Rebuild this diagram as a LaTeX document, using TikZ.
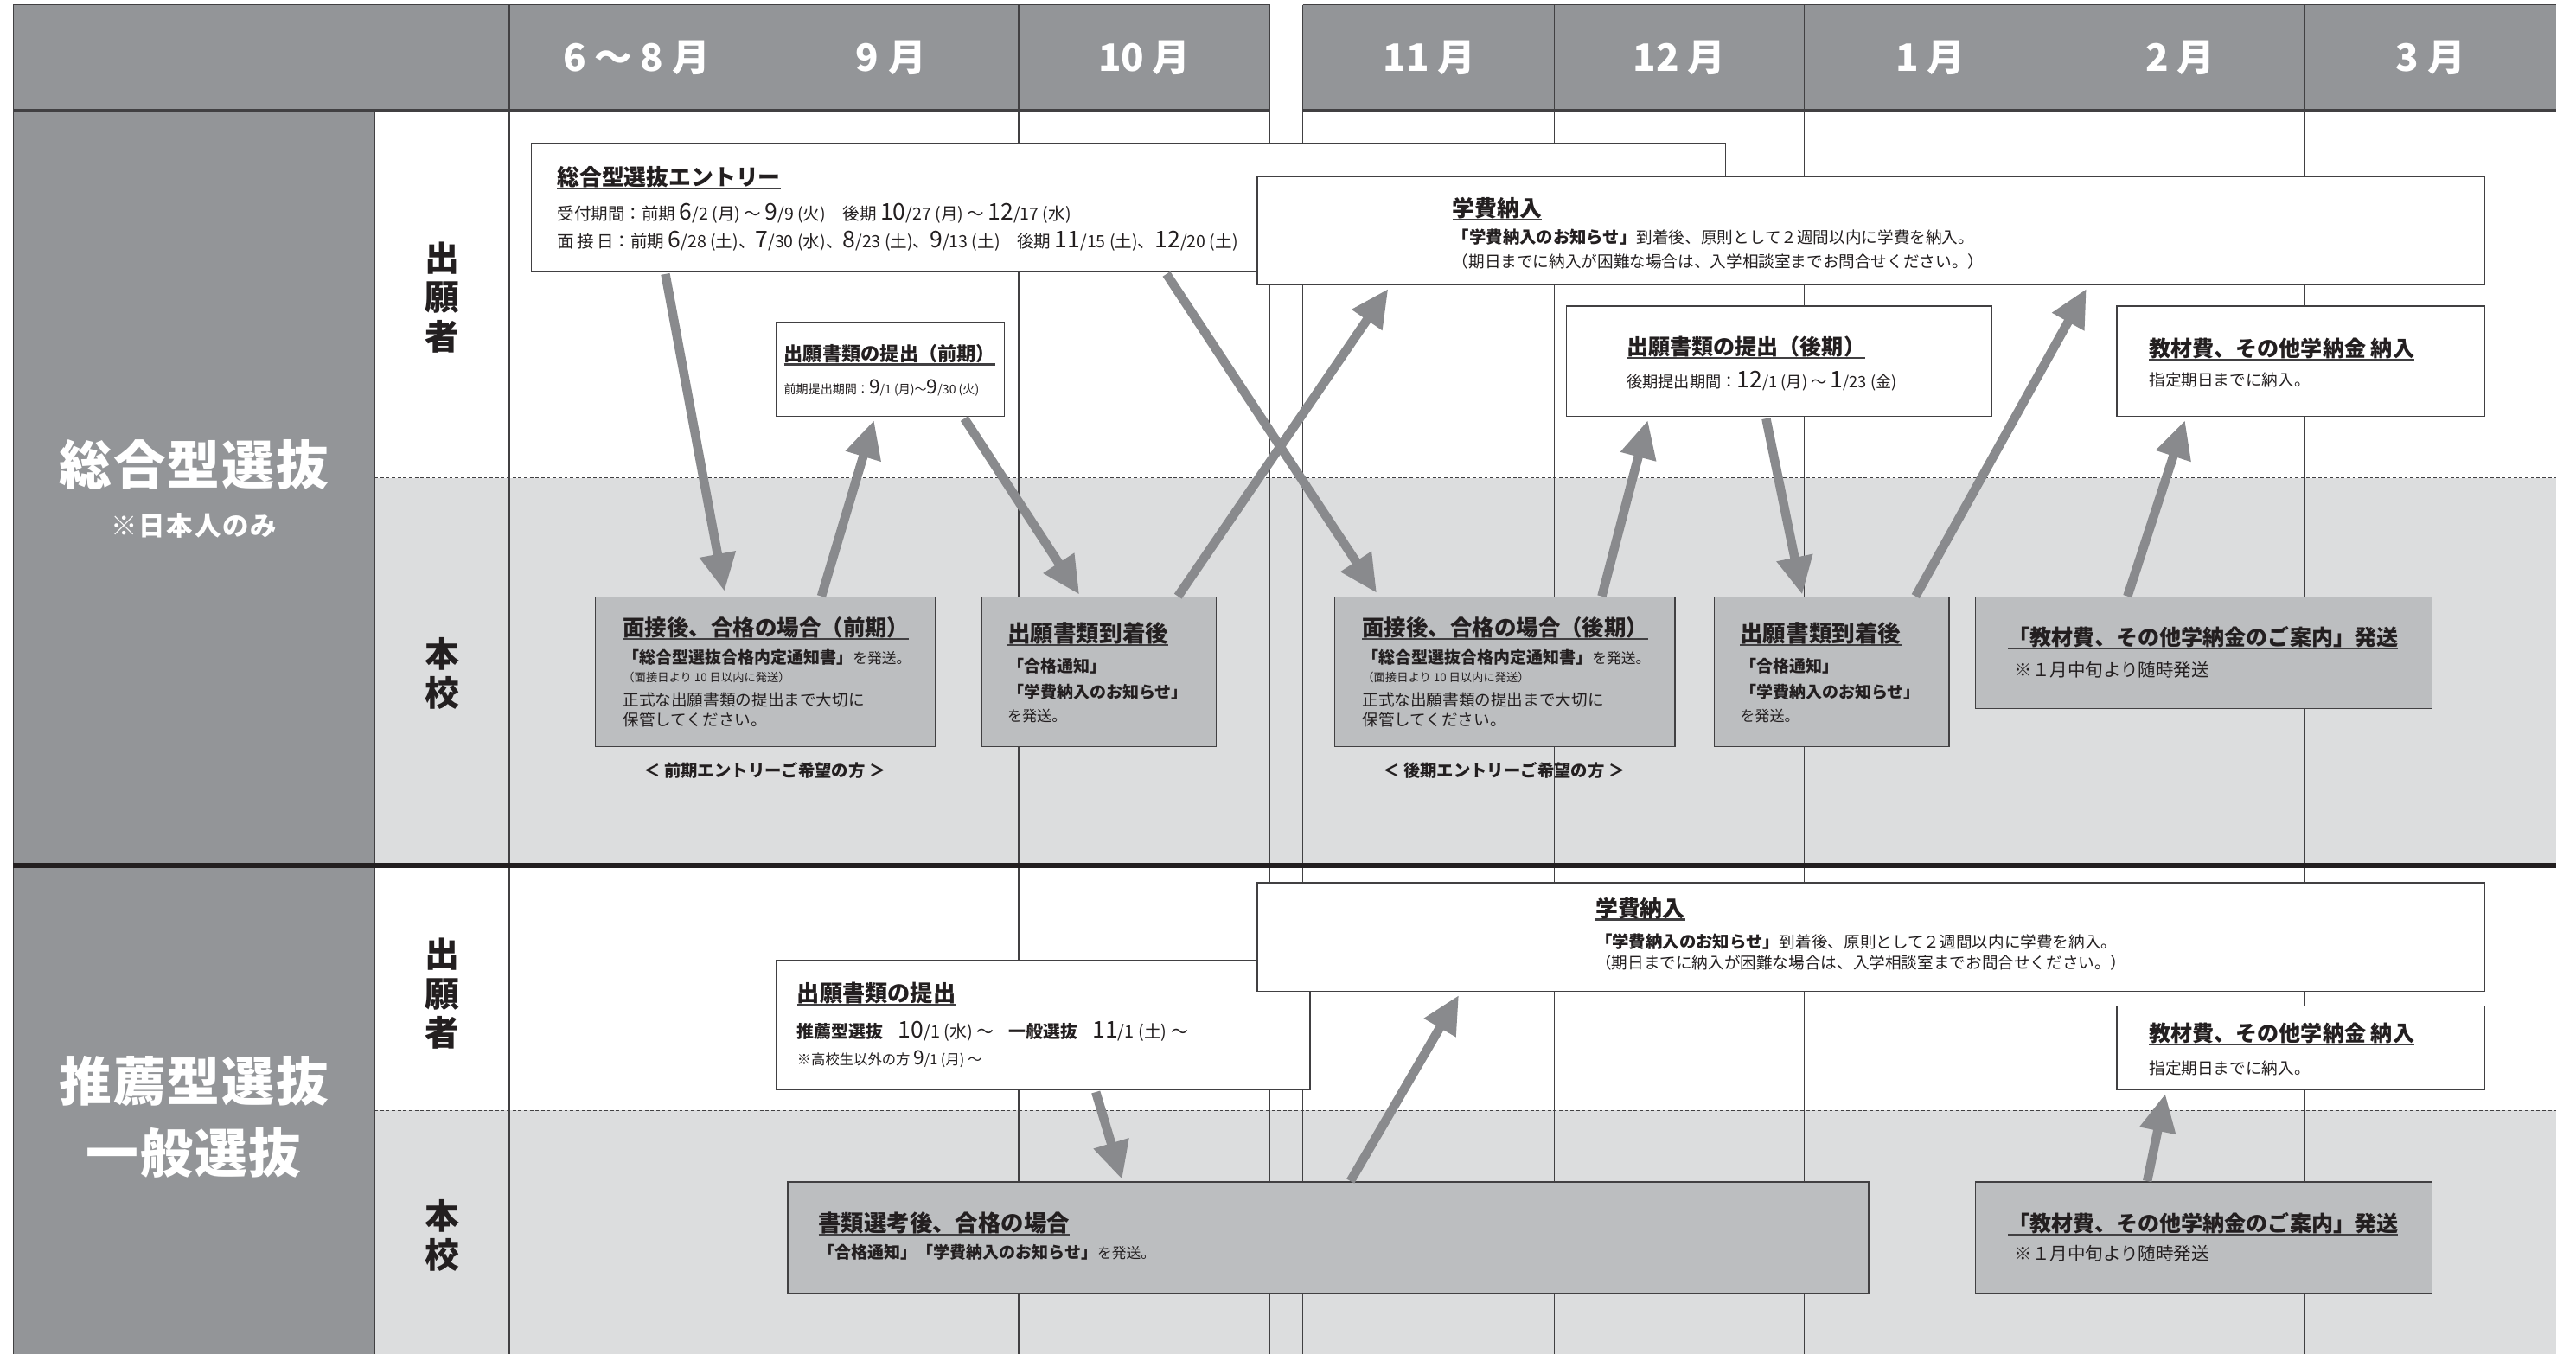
\documentclass[tikz,border=0pt]{standalone}
\usepackage{fontspec}
\setmainfont{Noto Sans CJK JP}
\usetikzlibrary{arrows.meta,calc}
\definecolor{hdr}{HTML}{939598}
\definecolor{band}{HTML}{DCDDDE}
\definecolor{boxg}{HTML}{BCBEC0}
\definecolor{lnc}{HTML}{414042}
\definecolor{arr}{HTML}{898A8D}
\definecolor{txt}{HTML}{231F20}
\newcommand\ulx[1]{\setbox0=\hbox{#1}\leavevmode\rlap{\color{lnc}\rule[-2.4pt]{\wd0}{1.2pt}}\box0}
\newcommand\bn[1]{{\fontsize{14}{14}\selectfont #1}}
\newcommand\bm[1]{{\fontsize{12}{12}\selectfont #1}}
\tikzset{
  tx/.style={anchor=base west, inner sep=0pt, text=txt},
  ttl/.style={tx, font=\fontsize{13.6}{14}\selectfont\bfseries},
  bd/.style={tx, font=\fontsize{9.8}{10}\selectfont},
  bdb/.style={tx, font=\fontsize{10}{10}\selectfont\bfseries},
  sm/.style={tx, font=\fontsize{7}{8}\selectfont},
  wbox/.style={draw=lnc, line width=0.8pt, fill=white, anchor=north west, inner sep=0pt},
  gbox/.style={wbox, fill=boxg},
  hd/.style={text=white, font=\fontsize{23}{23}\selectfont\bfseries, inner sep=0pt},
  cat/.style={text=white, font=\fontsize{32}{32}\selectfont\bfseries, inner sep=0pt},
  who/.style={text=txt, font=\fontsize{21}{24}\selectfont\bfseries, align=center, inner sep=0pt},
  grid/.style={draw=lnc, line width=0.6pt},
  garrow/.style={draw=arr, line width=5.5pt, -{Triangle[length=23pt,width=21pt]}},
}
\begin{document}
\begin{tikzpicture}[x=1pt,y=-1pt]
\useasboundingbox (0,0) rectangle (1568,824);
\fill[white] (0,0) rectangle (1568,824);
% left category column and bands
\fill[hdr] (8,67) rectangle (228,824);
\fill[band] (228,291) rectangle (1556,527);
\fill[band] (228,676) rectangle (1556,824);
% header
\fill[hdr] (8,3) rectangle (773,67);
\fill[hdr] (793,3) rectangle (1556,67);
\draw[grid] (8,3) -- (773,3) (793,3) -- (1556,3);
\draw[grid] (8,3) -- (8,824);
\foreach \x in {310,465,620,773,793,946,1098,1251,1403} \draw[grid] (\x,3) -- (\x,824);
\draw[grid] (228,67) -- (228,824);
\draw[draw=lnc, line width=1.6pt] (8,67) -- (773,67) (793,67) -- (1556,67);
\draw[grid, dash pattern=on 2pt off 1.5pt] (228,291) -- (1556,291);
\draw[grid, dash pattern=on 2pt off 1.5pt] (228,676) -- (1556,676);
\draw[draw=txt, line width=3pt] (8,527) -- (1556,527);
% header labels
\node[hd] (h1) at (387.5,35) {6\hspace{5pt}～\hspace{5pt}8\hspace{5pt}月};
\node[hd] (h2) at (542.5,35) {9\hspace{6pt}月};
\node[hd] (h3) at (696.5,35) {10\hspace{5pt}月};
\node[hd] (h4) at (870,35) {11\hspace{5pt}月};
\node[hd] (h5) at (1022,35) {12\hspace{5pt}月};
\node[hd] (h6) at (1175,35) {1\hspace{5pt}月};
\node[hd] (h7) at (1327,35) {2\hspace{5pt}月};
\node[hd] (h8) at (1479.5,35) {3\hspace{5pt}月};
% category labels
\node[cat] (c1) at (118,283) {総\hspace{1pt}合\hspace{1pt}型\hspace{1pt}選\hspace{1pt}抜};
\node[text=white, font=\fontsize{16}{16}\selectfont\bfseries, inner sep=0pt] (c1n) at (118,320) {※\hspace{1pt}日\hspace{1pt}本\hspace{1pt}人\hspace{1pt}の\hspace{1pt}み};
\node[cat] (c2) at (118,658) {推\hspace{1pt}薦\hspace{1pt}型\hspace{1pt}選\hspace{1pt}抜};
\node[cat] (c3) at (118,702) {一\hspace{1pt}般\hspace{1pt}選\hspace{1pt}抜};
\node[who] (w1) at (269,181) {出\\願\\者};
\node[who] (w2) at (269,410) {本\\校};
\node[who] (w3) at (269,605) {出\\願\\者};
\node[who] (w4) at (269,752) {本\\校};
% ===== upper section boxes =====
\node[wbox, minimum width=727pt, minimum height=78pt] (entry) at (323,87) {};
\node[ttl] (entry-t) at (339,113) {\ulx{総合型選抜エントリー}};
\node[tx, font=\fontsize{10.3}{11}\selectfont] (entry-a) at (339,134) {受付期間：前期 \bn{6}/2 (月) ～ \bn{9}/9 (火)\quad 後期 \bn{10}/27 (月) ～ \bn{12}/17 (水)};
\node[tx, font=\fontsize{10.3}{11}\selectfont] (entry-b) at (339,151) {面\,接\,日：前期 \bn{6}/28 (土)、\bn{7}/30 (水)、\bn{8}/23 (土)、\bn{9}/13 (土)\quad 後期 \bn{11}/15 (土)、\bn{12}/20 (土)};

\node[wbox, minimum width=747pt, minimum height=66pt] (fee1) at (765,107) {};
\node[ttl] (fee1-t) at (884,132) {\ulx{学費納入}};
\node[bd] (fee1-a) at (884,148) {{\bfseries\fontsize{10.2}{10}\selectfont 「学費納入のお知らせ」}到着後、原則として２週間以内に学費を納入。};
\node[bd] (fee1-b) at (884,163) {（期日までに納入が困難な場合は、入学相談室までお問合せください。）};

\node[wbox, minimum width=139pt, minimum height=57pt] (sub1) at (472,196) {};
\node[tx, font=\fontsize{11.7}{12}\selectfont\bfseries] (sub1-t) at (477,220) {\ulx{出願書類の提出（前期）}};
\node[tx, font=\fontsize{7.4}{8}\selectfont] (sub1-a) at (477,240) {前期提出期間：\bm{9}/1 (月)～\bm{9}/30 (火)};

\node[wbox, minimum width=259pt, minimum height=67pt] (sub2) at (953,186) {};
\node[tx, font=\fontsize{13.2}{14}\selectfont\bfseries] (sub2-t) at (990,216) {\ulx{出願書類の提出（後期）}};
\node[tx, font=\fontsize{9.6}{10}\selectfont] (sub2-a) at (990,236) {後期提出期間：\bn{12}/1 (月) ～ \bn{1}/23 (金)};

\node[wbox, minimum width=224pt, minimum height=67pt] (mat1) at (1288,186) {};
\node[tx, font=\fontsize{13.2}{14}\selectfont\bfseries] (mat1-t) at (1308,217) {\ulx{教材費、その他学納金 納入}};
\node[bd] (mat1-a) at (1308,235) {指定期日までに納入。};

\node[gbox, minimum width=207pt, minimum height=91pt] (int1) at (362,363) {};
\node[tx, font=\fontsize{13.4}{14}\selectfont\bfseries] (int1-t) at (379,387) {\ulx{面接後、合格の場合（前期）}};
\node[bdb] (int1-a) at (379,404) {「総合型選抜合格内定通知書」{\mdseries\fontsize{8.8}{9}\selectfont を発送。}};
\node[sm] (int1-b) at (379,415) {（面接日より 10 日以内に発送）};
\node[bd] (int1-c) at (379,430) {正式な出願書類の提出まで大切に};
\node[bd] (int1-d) at (379,442) {保管してください。};
\node[tx, anchor=base, font=\fontsize{10.2}{10}\selectfont\bfseries] (int1-n) at (465.5,473) {＜ 前期エントリーご希望の方 ＞};

\node[gbox, minimum width=143pt, minimum height=91pt] (arr1) at (597,363) {};
\node[tx, font=\fontsize{14}{14}\selectfont\bfseries] (arr1-t) at (613,391) {\ulx{出願書類到着後}};
\node[bdb] (arr1-a) at (613,409) {「合格通知」};
\node[bdb] (arr1-b) at (613,425) {「学費納入のお知らせ」};
\node[tx, font=\fontsize{9}{9}\selectfont] (arr1-c) at (613,439) {を発送。};

\node[gbox, minimum width=207pt, minimum height=91pt] (int2) at (812,363) {};
\node[tx, font=\fontsize{13.4}{14}\selectfont\bfseries] (int2-t) at (829,387) {\ulx{面接後、合格の場合（後期）}};
\node[bdb] (int2-a) at (829,404) {「総合型選抜合格内定通知書」{\mdseries\fontsize{8.8}{9}\selectfont を発送。}};
\node[sm] (int2-b) at (829,415) {（面接日より 10 日以内に発送）};
\node[bd] (int2-c) at (829,430) {正式な出願書類の提出まで大切に};
\node[bd] (int2-d) at (829,442) {保管してください。};
\node[tx, anchor=base, font=\fontsize{10.2}{10}\selectfont\bfseries] (int2-n) at (915.5,473) {＜ 後期エントリーご希望の方 ＞};

\node[gbox, minimum width=143pt, minimum height=91pt] (arr2) at (1043,363) {};
\node[tx, font=\fontsize{14}{14}\selectfont\bfseries] (arr2-t) at (1059,391) {\ulx{出願書類到着後}};
\node[bdb] (arr2-a) at (1059,409) {「合格通知」};
\node[bdb] (arr2-b) at (1059,425) {「学費納入のお知らせ」};
\node[tx, font=\fontsize{9}{9}\selectfont] (arr2-c) at (1059,439) {を発送。};

\node[gbox, minimum width=278pt, minimum height=68pt] (gd1) at (1202,363) {};
\node[tx, font=\fontsize{13.2}{14}\selectfont\bfseries] (gd1-t) at (1222,393) {\ulx{「教材費、その他学納金のご案内」発送}};
\node[tx, font=\fontsize{10.8}{11}\selectfont] (gd1-a) at (1226,412) {※１月中旬より随時発送};

% ===== lower section boxes =====
\node[wbox, minimum width=325pt, minimum height=79pt] (sub3) at (472,584) {};
\node[tx, font=\fontsize{13.8}{14}\selectfont\bfseries] (sub3-t) at (485,610) {\ulx{出願書類の提出}};
\node[tx, font=\fontsize{10.5}{11}\selectfont] (sub3-a) at (485,632) {{\bfseries 推薦型選抜}\hspace{9pt}\bn{10}/1 (水) ～\hspace{9pt}{\bfseries 一般選抜}\hspace{9pt}\bn{11}/1 (土) ～};
\node[tx, font=\fontsize{8.6}{9}\selectfont] (sub3-b) at (485,648) {※高校生以外の方 \bm{9}/1 (月) ～};

\node[wbox, minimum width=747pt, minimum height=66pt] (fee2) at (765,537) {};
\node[ttl] (fee2-t) at (971,558) {\ulx{学費納入}};
\node[bd] (fee2-a) at (971,577) {{\bfseries\fontsize{10.2}{10}\selectfont 「学費納入のお知らせ」}到着後、原則として２週間以内に学費を納入。};
\node[bd] (fee2-b) at (971,590) {（期日までに納入が困難な場合は、入学相談室までお問合せください。）};

\node[wbox, minimum width=224pt, minimum height=51pt] (mat2) at (1288,612) {};
\node[tx, font=\fontsize{13.2}{14}\selectfont\bfseries] (mat2-t) at (1308,634) {\ulx{教材費、その他学納金 納入}};
\node[bd] (mat2-a) at (1308,654) {指定期日までに納入。};

\node[gbox, minimum width=658pt, minimum height=68pt] (pass) at (479,719) {};
\node[tx, font=\fontsize{13.9}{14}\selectfont\bfseries] (pass-t) at (498,750) {\ulx{書類選考後、合格の場合}};
\node[bdb] (pass-a) at (498,766) {「合格通知」「学費納入のお知らせ」{\mdseries\fontsize{8.8}{9}\selectfont を発送。}};

\node[gbox, minimum width=278pt, minimum height=68pt] (gd2) at (1202,719) {};
\node[tx, font=\fontsize{13.2}{14}\selectfont\bfseries] (gd2-t) at (1222,750) {\ulx{「教材費、その他学納金のご案内」発送}};
\node[tx, font=\fontsize{10.8}{11}\selectfont] (gd2-a) at (1226,767) {※１月中旬より随時発送};

% ===== arrows =====
\draw[garrow] ($(entry.south west)+(82,1)$) -- ($(int1.north west)+(79,-3)$);
\draw[garrow] ($(int1.north west)+(138,0)$) -- ($(sub1.south west)+(60,2)$);
\draw[garrow] ($(sub1.south west)+(115,1)$) -- ($(arr1.north west)+(60,-1)$);
\draw[garrow] ($(arr1.north west)+(120,0)$) -- ($(fee1.south west)+(80,2)$);
\draw[garrow] ($(entry.south west)+(387,1)$) -- ($(int2.north west)+(26,-2)$);
\draw[garrow] ($(int2.north west)+(163,0)$) -- ($(sub2.south west)+(50,2)$);
\draw[garrow] ($(sub2.south west)+(122,1)$) -- ($(arr2.north west)+(54,-1)$);
\draw[garrow] ($(arr2.north west)+(123,0)$) -- ($(fee1.south west)+(505,2)$);
\draw[garrow] ($(gd1.north west)+(93,0)$) -- ($(mat1.south west)+(42,2)$);
\draw[garrow] ($(sub3.south west)+(195,1)$) -- ($(pass.north west)+(204,-1)$);
\draw[garrow] ($(pass.north west)+(343,0)$) -- ($(fee2.south west)+(123,2)$);
\draw[garrow] ($(gd2.north west)+(105,0)$) -- ($(mat2.south west)+(30,2)$);
\end{tikzpicture}
\end{document}
